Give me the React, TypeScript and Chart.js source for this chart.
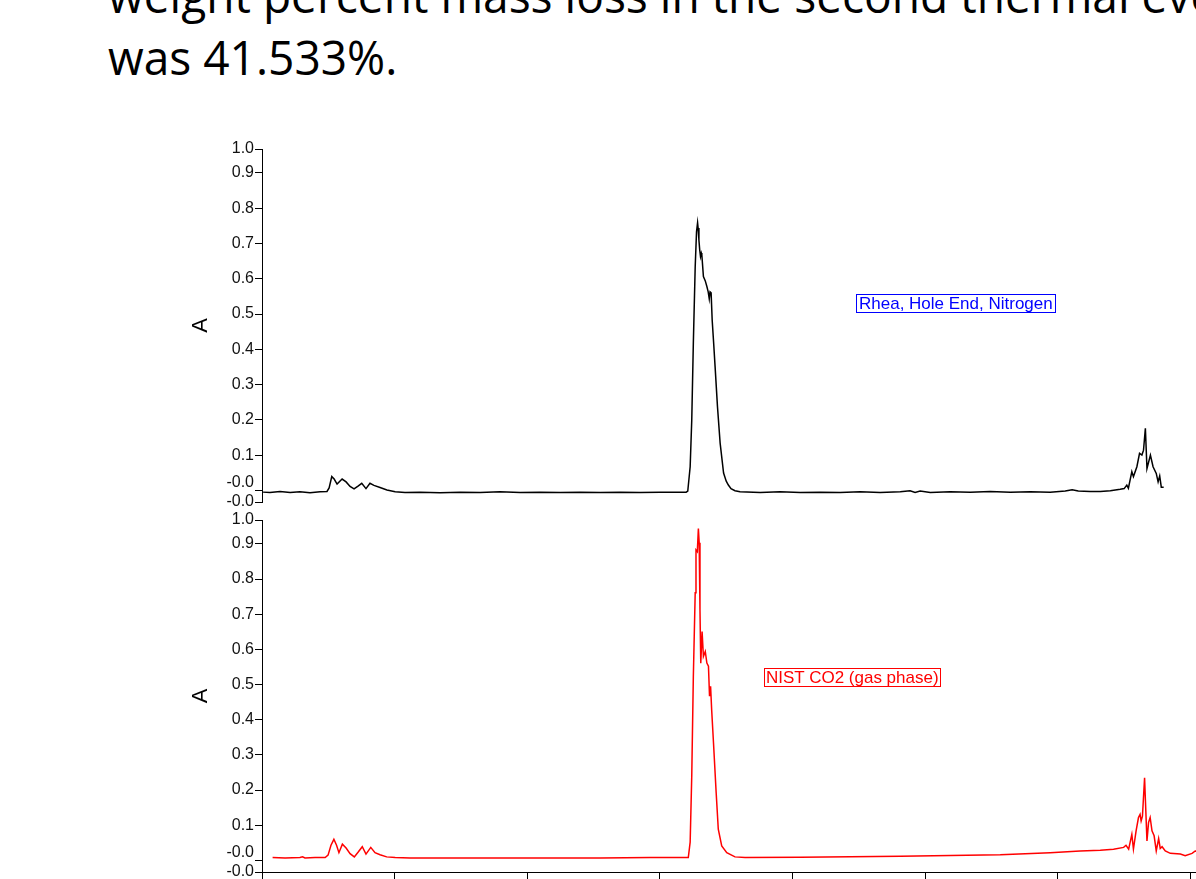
import React, { useEffect, useRef } from "react";
import { Chart, registerables } from "chart.js";

Chart.register(...registerables);

// ---- Data ----
const xTickValues = [4000, 3500, 3000, 2500, 2000, 1500, 1000, 500];
const xMin = 400;
const xMax = 4000;

const yTickValues = [-0.033, 0, 0.1, 0.2, 0.3, 0.4, 0.5, 0.6, 0.7, 0.8, 0.9, 0.968];
const yTickLabels = ["-0.0", "-0.0", "0.1", "0.2", "0.3", "0.4", "0.5", "0.6", "0.7", "0.8", "0.9", "1.0"];
const yMin = -0.033;
const yMax = 0.968;

const rheaWavenumbers = [
  3996, 3970, 3932, 3894, 3857, 3819, 3781, 3755, 3747, 3737, 3728, 3717, 3698, 3683, 3668, 3653,
  3638, 3624, 3608, 3593, 3578, 3555, 3529, 3498, 3461, 3404, 3329, 3253, 3178, 3103, 3027, 2952,
  2876, 2801, 2725, 2650, 2575, 2499, 2424, 2401, 2395, 2386, 2380, 2374, 2367, 2362, 2358, 2356,
  2353, 2350, 2347, 2344, 2342, 2336, 2329, 2323, 2318, 2314, 2311, 2307, 2303, 2297, 2292, 2283,
  2273, 2260, 2250, 2242, 2232, 2217, 2198, 2122, 2047, 1971, 1896, 1821, 1745, 1670, 1594, 1557,
  1538, 1519, 1481, 1406, 1330, 1255, 1179, 1104, 1029, 972, 946, 923, 878, 840, 802, 765, 750,
  740, 734, 721, 715, 702, 692, 683, 677, 670, 664, 651, 641, 629, 622, 616, 610, 601,
];
const rheaAbsorbance = [
  -0.005, -0.006, -0.003, -0.006, -0.004, -0.007, -0.004, -0.003, 0.007, 0.039, 0.032, 0.018, 0.032, 0.024, 0.011, 0.004,
  0.012, 0.020, 0.005, 0.020, 0.014, 0.008, 0.001, -0.004, -0.006, -0.005, -0.007, -0.005, -0.006, -0.004, -0.006, -0.005,
  -0.006, -0.005, -0.006, -0.005, -0.006, -0.005, -0.005, -0.005, -0.002, 0.067, 0.199, 0.418, 0.634, 0.733, 0.759, 0.744,
  0.710, 0.682, 0.663, 0.673, 0.668, 0.606, 0.594, 0.578, 0.563, 0.543, 0.563, 0.560, 0.483, 0.412, 0.351, 0.237,
  0.134, 0.049, 0.026, 0.015, 0.005, -0.001, -0.004, -0.006, -0.004, -0.006, -0.005, -0.006, -0.004, -0.006, -0.004, -0.001,
  -0.006, -0.002, -0.006, -0.004, -0.005, -0.003, -0.005, -0.004, -0.005, -0.002, 0.002, -0.002, -0.003, -0.003, -0.001, 0.003, 0.005,
  0.015, 0.006, 0.053, 0.039, 0.067, 0.105, 0.100, 0.114, 0.176, 0.062, 0.100, 0.067, 0.048, 0.024, 0.041, 0.009, 0.009,
];

const nistWavenumbers = [
  3960, 3913, 3857, 3847, 3838, 3800, 3762, 3751, 3740, 3729, 3719, 3710, 3697, 3683, 3668, 3652,
  3638, 3622, 3608, 3590, 3574, 3555, 3530, 3498, 3442, 3291, 3103, 2914, 2725, 2537, 2405, 2393,
  2386, 2380, 2374, 2367, 2364, 2359, 2355, 2352, 2349, 2346, 2341, 2336, 2329, 2323, 2317, 2313,
  2309, 2305, 2298, 2288, 2280, 2267, 2248, 2217, 2179, 1971, 1594, 1217, 1029, 916, 840, 790,
  752, 743, 733, 721, 715, 705, 696, 690, 686, 681, 673, 670, 664, 658, 652, 645, 637, 629,
  620, 614, 607, 595, 576, 538, 520, 494, 482, 463,
];
const nistAbsorbance = [
  0.008, 0.007, 0.008, 0.010, 0.007, 0.008, 0.008, 0.015, 0.043, 0.060, 0.043, 0.022, 0.046, 0.035, 0.019, 0.010,
  0.023, 0.039, 0.018, 0.037, 0.022, 0.016, 0.010, 0.008, 0.007, 0.007, 0.007, 0.007, 0.007, 0.008, 0.0085, 0.008,
  0.052, 0.240, 0.523, 0.761, 0.883, 0.878, 0.944, 0.903, 0.713, 0.561, 0.651, 0.580, 0.594, 0.561, 0.552, 0.467,
  0.495, 0.429, 0.334, 0.193, 0.089, 0.041, 0.022, 0.010, 0.008, 0.009, 0.012, 0.016, 0.022, 0.027, 0.029, 0.032,
  0.037, 0.043, 0.032, 0.074, 0.032, 0.084, 0.122, 0.131, 0.112, 0.126, 0.235, 0.174, 0.055, 0.108, 0.122, 0.084, 0.070, 0.027,
  0.062, 0.034, 0.039, 0.027, 0.020, 0.018, 0.013, 0.020, 0.027, 0.026,
];

const FONT = "'Liberation Sans', Arial, sans-serif";

function makeConfig(
  xs: number[],
  ys: number[],
  color: string,
  showX: boolean,
  padding: { left: number; top: number; right: number; bottom: number }
): any {
  return {
    type: "line",
    data: {
      datasets: [
        {
          data: xs.map((x, i) => ({ x, y: ys[i] })),
          borderColor: color,
          borderWidth: 1.5,
          pointRadius: 0,
          tension: 0,
          fill: false,
        },
      ],
    },
    options: {
      animation: false,
      responsive: false,
      maintainAspectRatio: false,
      devicePixelRatio: 1,
      layout: { padding },
      plugins: { legend: { display: false }, tooltip: { enabled: false }, title: { display: false } },
      scales: {
        x: {
          type: "linear",
          reverse: true,
          min: xMin,
          max: xMax,
          display: showX,
          afterBuildTicks: (scale: any) => {
            scale.ticks = xTickValues.map((v) => ({ value: v }));
          },
          afterFit: (scale: any) => {
            scale.height = showX ? 30 : 0;
          },
          grid: {
            display: true,
            drawOnChartArea: false,
            drawTicks: true,
            tickLength: 8,
            color: "#000",
            lineWidth: 1,
          },
          border: { display: true, color: "#000", width: 1 },
          ticks: { color: "#000", font: { family: FONT, size: 16 }, maxRotation: 0, autoSkip: false },
        },
        y: {
          type: "linear",
          min: yMin,
          max: yMax,
          afterBuildTicks: (scale: any) => {
            scale.ticks = yTickValues.map((v) => ({ value: v }));
          },
          afterFit: (scale: any) => {
            scale.width = 74;
          },
          grid: {
            display: true,
            drawOnChartArea: false,
            drawTicks: true,
            tickLength: 7,
            color: "#000",
            lineWidth: 1,
          },
          border: { display: true, color: "#000", width: 1 },
          ticks: {
            color: "#111",
            autoSkip: false,
            padding: 1,
            font: { family: FONT, size: 16, lineHeight: 1.0 },
            callback: (_v: any, i: number) => (i === 1 ? [yTickLabels[i], ""] : yTickLabels[i]),
          },
          title: {
            display: true,
            text: "A",
            color: "#000",
            padding: 0,
            font: { family: FONT, size: 22 },
          },
        },
      },
    },
  };
}

function SpectrumChart(props: {
  xs: number[];
  ys: number[];
  color: string;
  showX: boolean;
  top: number;
  height: number;
  padding: { left: number; top: number; right: number; bottom: number };
}) {
  const ref = useRef<HTMLCanvasElement | null>(null);
  useEffect(() => {
    if (!ref.current) return;
    const chart = new Chart(ref.current, makeConfig(props.xs, props.ys, props.color, props.showX, props.padding));
    return () => chart.destroy();
  }, []);
  return (
    <canvas
      ref={ref}
      width={1230}
      height={props.height}
      style={{ position: "absolute", left: 0, top: props.top, width: 1230, height: props.height }}
    />
  );
}

export default function App() {
  const headStyle: React.CSSProperties = {
    position: "absolute",
    left: 108,
    fontFamily: "'Open Sans', sans-serif",
    fontSize: 48,
    lineHeight: "62px",
    whiteSpace: "nowrap",
    color: "#000",
    transform: "scaleX(0.96)",
    transformOrigin: "left top",
  };
  return (
    <div style={{ position: "fixed", inset: 0, overflow: "hidden", background: "#fff" }}>
      <div style={{ ...headStyle, top: -36 }}>weight percent mass loss in the second thermal event</div>
      <div style={{ ...headStyle, top: 26 }}>was 41.533%.</div>

      <SpectrumChart
        xs={rheaWavenumbers}
        ys={rheaAbsorbance}
        color="#000000"
        showX={false}
        top={129}
        height={383}
        padding={{ left: 188, top: 20, right: 13, bottom: 10 }}
      />
      <SpectrumChart
        xs={nistWavenumbers}
        ys={nistAbsorbance}
        color="#ff0000"
        showX={true}
        top={500}
        height={402}
        padding={{ left: 188, top: 20, right: 13, bottom: 0 }}
      />

      <div
        style={{
          position: "absolute",
          left: 856,
          top: 294,
          border: "1px solid #0000ff",
          color: "#0000ff",
          fontFamily: FONT,
          fontSize: 17,
          lineHeight: "17px",
          padding: "0 2px",
          whiteSpace: "nowrap",
        }}
      >
        Rhea, Hole End, Nitrogen
      </div>
      <div
        style={{
          position: "absolute",
          left: 764,
          top: 668,
          border: "1px solid #ff0000",
          color: "#ff0000",
          fontFamily: FONT,
          fontSize: 17,
          lineHeight: "17px",
          padding: "0 1px",
          whiteSpace: "nowrap",
        }}
      >
        NIST CO2 (gas phase)
      </div>
    </div>
  );
}
